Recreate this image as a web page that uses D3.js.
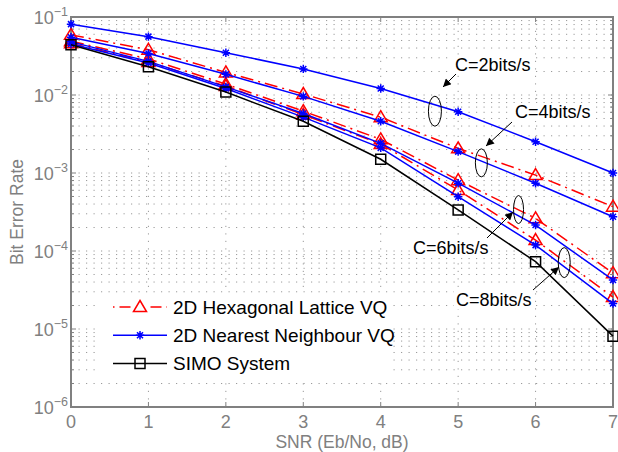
<!DOCTYPE html>
<html><head><meta charset="utf-8">
<script src="https://cdn.jsdelivr.net/npm/d3@7"></script>
<style>
html,body{margin:0;padding:0;background:#fff;}
svg{display:block;font-family:"Liberation Sans",Arial,sans-serif;}
</style></head>
<body><svg id="c" width="618" height="452"></svg>
<script>
// ---- data ----
const snr = [0, 1, 2, 3, 4, 5, 6, 7];
const hex4 = [0.059, 0.038, 0.0195, 0.0103, 0.0052, 0.00207, 0.00094, 0.00037];
const hex6 = [0.049, 0.029, 0.0138, 0.0062, 0.0027, 0.00081, 0.000262, 0.000052];
const hex8 = [0.046, 0.0265, 0.0130, 0.0056, 0.00235, 0.000605, 0.000138, 0.0000257];
const nn2  = [0.081, 0.056, 0.0348, 0.0216, 0.0121, 0.0061, 0.00252, 0.00100];
const nn4  = [0.055, 0.034, 0.0184, 0.0096, 0.0046, 0.00188, 0.00074, 0.000275];
const nn6  = [0.048, 0.027, 0.0127, 0.0058, 0.0024, 0.00074, 0.000215, 0.0000425];
const nn8  = [0.045, 0.0257, 0.0121, 0.0052, 0.0021, 0.000497, 0.000119, 0.0000212];
const simo = [0.044, 0.023, 0.0109, 0.0046, 0.0015, 0.000336, 0.000073, 0.0000081];
const xTicks = [0, 1, 2, 3, 4, 5, 6, 7];
const yExponents = [-1, -2, -3, -4, -5, -6];
const legendLabels = ["2D Hexagonal Lattice VQ", "2D Nearest Neighbour VQ", "SIMO System"];
const annotations = [
  {text: "C=2bits/s", tx: 455, ty: 71, ex: 4.7, ey: 0.0062, rx: 6.5, ry: 15, ax0: 456, ay0: 74, ax1: 443, ay1: 87},
  {text: "C=4bits/s", tx: 515, ty: 118, ex: 5.3, ey: 0.00135, rx: 6, ry: 14, ax0: 512, ay0: 122, ax1: 486, ay1: 146},
  {text: "C=6bits/s", tx: 413, ty: 254, ex: 5.78, ey: 0.00034, rx: 5, ry: 14, ax0: 487, ay0: 238, ax1: 513, ay1: 212},
  {text: "C=8bits/s", tx: 456, ty: 306, ex: 6.37, ey: 0.000071, rx: 6, ry: 15, ax0: 533, ay0: 290, ax1: 559, ay1: 267}
];

// ---- layout ----
const L = 71, R = 613, T = 17, B = 407;
const svg = d3.select("#c");
const x = d3.scaleLinear().domain([0, 7]).range([L, R]);
const y = d3.scaleLog().domain([1e-6, 1e-1]).range([B, T]);
const gray = "#808080";

svg.append("rect").attr("width", 618).attr("height", 452).attr("fill", "#fff");

// grid
const grid = svg.append("g").attr("stroke", "#9a9a9a").attr("stroke-width", 1)
  .attr("stroke-dasharray", "1.2,6.3").attr("fill", "none");
xTicks.slice(1, -1).forEach(v => {
  grid.append("line").attr("x1", x(v)).attr("x2", x(v)).attr("y1", B).attr("y2", T);
});
const minorVals = [];
for (let e = -6; e < -1; e++) for (let m = 1; m <= 9; m++) minorVals.push(m * Math.pow(10, e));
minorVals.push(0.1);
minorVals.forEach(v => {
  if (Math.abs(v - 1e-6) < 1e-12 || Math.abs(v - 0.1) < 1e-9) return;
  grid.append("line").attr("x1", L).attr("x2", R).attr("y1", y(v)).attr("y2", y(v));
});

// axes box
const ax = svg.append("g").attr("stroke", gray).attr("stroke-width", 2).attr("fill", "none");
ax.append("rect").attr("x", L).attr("y", T).attr("width", R - L).attr("height", B - T);
xTicks.forEach(v => {
  ax.append("line").attr("x1", x(v)).attr("x2", x(v)).attr("y1", B).attr("y2", B - 5).attr("stroke-width", 1);
  ax.append("line").attr("x1", x(v)).attr("x2", x(v)).attr("y1", T).attr("y2", T + 5).attr("stroke-width", 1);
});
minorVals.forEach(v => {
  const major = Math.abs(Math.log10(v) - Math.round(Math.log10(v))) < 1e-6;
  const len = major ? 5 : 3;
  ax.append("line").attr("x1", L).attr("x2", L + len).attr("y1", y(v)).attr("y2", y(v)).attr("stroke-width", 1);
  ax.append("line").attr("x1", R).attr("x2", R - len).attr("y1", y(v)).attr("y2", y(v)).attr("stroke-width", 1);
});

// x tick labels
svg.append("g").selectAll("text").data(xTicks).join("text")
  .attr("x", d => x(d)).attr("y", 428).attr("text-anchor", "middle")
  .attr("font-size", 18).attr("fill", gray).text(d => d);

// y tick labels
yExponents.forEach(e => {
  const t = svg.append("text").attr("x", 68).attr("y", y(Math.pow(10, e)) + 7)
    .attr("text-anchor", "end").attr("fill", gray).attr("font-size", 18);
  t.append("tspan").text("10");
  t.append("tspan").attr("font-size", 12.5).attr("dy", -8).text("\u2212" + Math.abs(e));
});

// axis labels
svg.append("text").attr("x", (L + R) / 2).attr("y", 448).attr("text-anchor", "middle")
  .attr("font-size", 17.5).attr("fill", gray).text("SNR (Eb/No, dB)");
svg.append("text").attr("transform", "translate(23," + ((T + B) / 2) + ") rotate(-90)")
  .attr("text-anchor", "middle").attr("font-size", 17.5).attr("fill", gray).text("Bit Error Rate");

// ---- series ----
const plot = svg.append("g");
const line = d3.line().x((d, i) => x(snr[i])).y(d => y(d));
const hexDash = "13,5,2,5";
const starPath = "M-4.2,0H4.2M0,-4.2V4.2M-3,-3L3,3M-3,3L3,-3";
const triPath = "M0,-6.5L6.5,4.5L-6.5,4.5Z";
const sqPath = "M-5,-5H5V5H-5Z";

function drawSeries(data, color, dash, markerPath) {
  plot.append("path").attr("d", line(data)).attr("fill", "none").attr("stroke", color)
    .attr("stroke-width", 1.5).attr("stroke-dasharray", dash);
  plot.append("g").selectAll("path").data(data).join("path")
    .attr("transform", (d, i) => "translate(" + x(snr[i]) + "," + y(d) + ")")
    .attr("d", markerPath).attr("fill", "none").attr("stroke", color).attr("stroke-width", 1.5);
}
[hex4, hex6, hex8].forEach(s => drawSeries(s, "#ff0000", hexDash, triPath));
[nn2, nn4, nn6, nn8].forEach(s => drawSeries(s, "#0000ff", null, starPath));
drawSeries(simo, "#000000", null, sqPath);

// ---- legend ----
const lg = svg.append("g");
lg.append("rect").attr("x", 98).attr("y", 293).attr("width", 290).attr("height", 84).attr("fill", "#fff");
const legendStyles = [
  {color: "#ff0000", dash: "1.5,5,11,20,11,5", marker: triPath},
  {color: "#0000ff", dash: null, marker: starPath},
  {color: "#000000", dash: null, marker: sqPath}
];
legendLabels.forEach((lab, i) => {
  const ly = 307 + i * 28.3;
  const st = legendStyles[i];
  lg.append("line").attr("x1", 113).attr("x2", 167).attr("y1", ly).attr("y2", ly)
    .attr("stroke", st.color).attr("stroke-width", 1.5).attr("stroke-dasharray", st.dash);
  lg.append("path").attr("transform", "translate(140," + ly + ")").attr("d", st.marker)
    .attr("fill", "none").attr("stroke", st.color).attr("stroke-width", 1.5);
  lg.append("text").attr("x", 173).attr("y", ly + 6.5).attr("font-size", 19).attr("fill", "#000").text(lab);
});

// ---- annotations ----
const an = svg.append("g");
svg.append("defs").append("marker").attr("id", "arr").attr("viewBox", "0 0 10 10")
  .attr("refX", 10).attr("refY", 5).attr("markerWidth", 10).attr("markerHeight", 8)
  .attr("markerUnits", "userSpaceOnUse").attr("orient", "auto")
  .append("path").attr("d", "M0,0L10,5L0,10Z").attr("fill", "#000");
annotations.forEach(a => {
  an.append("ellipse").attr("cx", x(a.ex)).attr("cy", y(a.ey)).attr("rx", a.rx).attr("ry", a.ry)
    .attr("fill", "none").attr("stroke", "#000").attr("stroke-width", 1);
  const t = an.append("text").attr("x", a.tx).attr("y", a.ty).attr("font-size", 18)
    .attr("fill", "#000").text(a.text);
  const bb = t.node().getBBox();
  an.insert("rect", function(){ return t.node(); }).attr("x", bb.x - 2).attr("y", bb.y + 1)
    .attr("width", bb.width + 4).attr("height", bb.height - 2).attr("fill", "#fff");
  an.append("line").attr("x1", a.ax0).attr("y1", a.ay0).attr("x2", a.ax1).attr("y2", a.ay1)
    .attr("stroke", "#000").attr("stroke-width", 1).attr("marker-end", "url(#arr)");
});
</script></body></html>
